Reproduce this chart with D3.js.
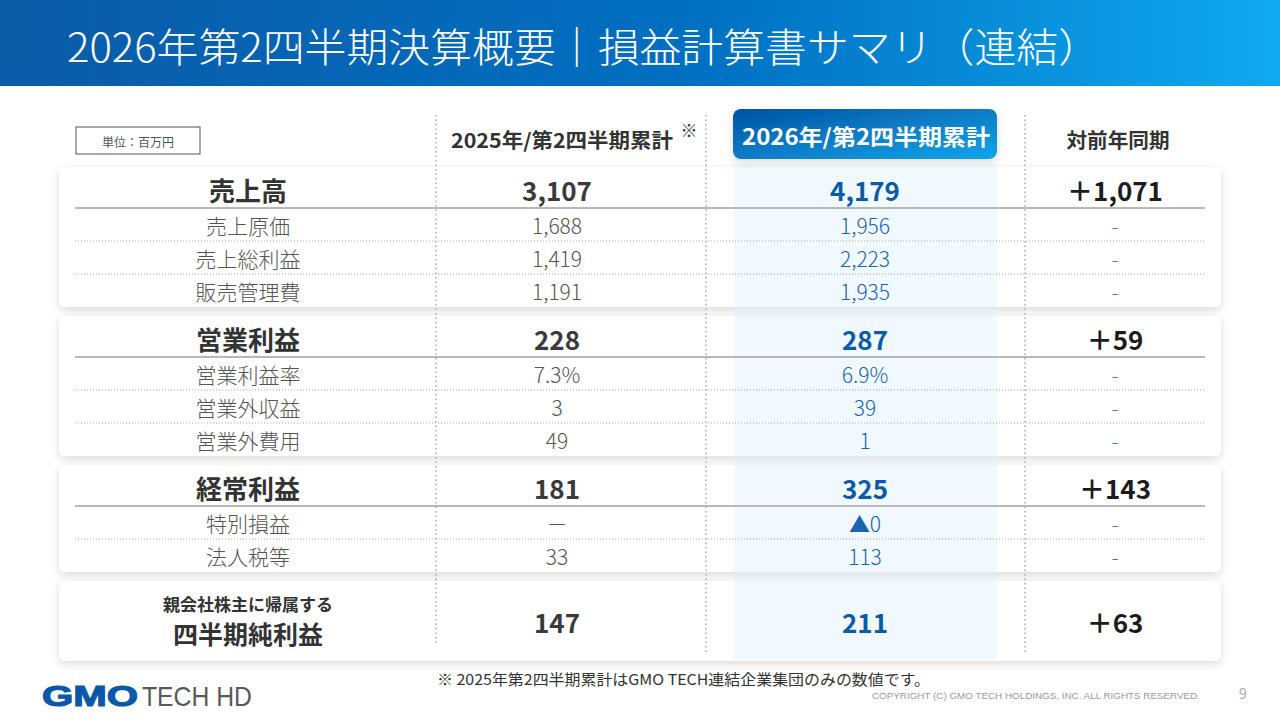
<!DOCTYPE html>
<html lang="ja">
<head>
  <meta charset="UTF-8">
  <title>損益計算書サマリ</title>
  <style>
    html, body { margin: 0; padding: 0; background: #fff; }
    svg { display: block; font-family: "Noto Sans CJK JP", "Noto Sans", sans-serif; }
  </style>
</head>
<body>
  <svg id="chart" width="1280" height="720"></svg>

  <script src="https://d3js.org/d3.v7.min.js"></script>
  <script>
    // Table contents (百万円)
    const titleText = "2026年第2四半期決算概要｜損益計算書サマリ（連結）";
    const unitText = "単位：百万円";
    const columnHeaders = ["2025年/第2四半期累計", "2026年/第2四半期累計", "対前年同期"];
    const rowLabels = ["売上高", "売上原価", "売上総利益", "販売管理費",
                       "営業利益", "営業利益率", "営業外収益", "営業外費用",
                       "経常利益", "特別損益", "法人税等",
                       "四半期純利益"];
    const rowIsMain = [true, false, false, false, true, false, false, false, true, false, false, true];
    const netIncomeCaption = "親会社株主に帰属する";
    const prior2025 = ["3,107", "1,688", "1,419", "1,191", "228", "7.3%", "3", "49", "181", "－", "33", "147"];
    const current2026 = ["4,179", "1,956", "2,223", "1,935", "287", "6.9%", "39", "1", "325", "▲0", "113", "211"];
    const yoyChange = ["＋1,071", "-", "-", "-", "＋59", "-", "-", "-", "＋143", "-", "-", "＋63"];
    const footnoteText = "※ 2025年第2四半期累計はGMO TECH連結企業集団のみの数値です。";
    const copyrightText = "COPYRIGHT (C) GMO TECH HOLDINGS, INC. ALL RIGHTS RESERVED.";
    const pageNumber = "9";

    const svg = d3.select("#chart");
    const defs = svg.append("defs");

    const bandGrad = defs.append("linearGradient").attr("id", "band").attr("x1", 0).attr("x2", 1);
    bandGrad.append("stop").attr("offset", "0%").attr("stop-color", "#0b5ba8");
    bandGrad.append("stop").attr("offset", "55%").attr("stop-color", "#0070c2");
    bandGrad.append("stop").attr("offset", "100%").attr("stop-color", "#10a9ef");

    const headGrad = defs.append("linearGradient").attr("id", "headbox")
      .attr("x1", 0).attr("y1", 0).attr("x2", 1).attr("y2", 1);
    headGrad.append("stop").attr("offset", "0%").attr("stop-color", "#0553a3");
    headGrad.append("stop").attr("offset", "100%").attr("stop-color", "#0aa6ea");

    const shadow = defs.append("filter").attr("id", "shadow")
      .attr("x", "-5%").attr("y", "-20%").attr("width", "110%").attr("height", "150%");
    shadow.append("feDropShadow").attr("dx", 0).attr("dy", 3).attr("stdDeviation", 4)
      .attr("flood-color", "#000").attr("flood-opacity", 0.15);

    // title band
    svg.append("rect").attr("width", 1280).attr("height", 86).attr("fill", "url(#band)");
    svg.append("text")
      .attr("x", 67).attr("y", 62)
      .attr("textLength", 1033).attr("lengthAdjust", "spacingAndGlyphs")
      .attr("font-size", 40).attr("font-weight", 300).attr("fill", "#fff")
      .text(titleText);

    // group rows into cards
    const groups = [];
    rowLabels.forEach((lab, i) => {
      if (rowIsMain[i]) groups.push({ main: i, subs: [] });
      else groups[groups.length - 1].subs.push(i);
    });
    let cardTop = 167;
    const rowY = new Array(rowLabels.length);
    groups.forEach(g => {
      g.top = cardTop;
      if (g.subs.length) {
        g.height = 41 + 33 * g.subs.length;
        g.divider = cardTop + 41;
        rowY[g.main] = cardTop + 21;
        g.subs.forEach((r, k) => { rowY[r] = cardTop + 57 + 33 * k; });
      } else {
        g.height = 80;
        rowY[g.main] = cardTop + 39;
      }
      cardTop += g.height + 9;
    });

    const columns = ["label", "prior", "current", "yoy"];
    const x = d3.scaleOrdinal().domain(columns).range([248, 557, 865, 1115]);
    const y = d3.scaleOrdinal().domain(d3.range(rowLabels.length)).range(rowY);
    const cardLeft = 59, cardRight = 1221;

    // cards
    svg.append("g").selectAll("rect").data(groups).join("rect")
      .attr("x", cardLeft).attr("y", d => d.top)
      .attr("width", cardRight - cardLeft).attr("height", d => d.height)
      .attr("rx", 6).attr("fill", "#fff").attr("filter", "url(#shadow)");

    // highlighted current-period column
    svg.append("rect")
      .attr("x", x("current") - 131).attr("y", 165)
      .attr("width", 263).attr("height", 495)
      .attr("fill", "#d8f1fc").attr("opacity", 0.4);

    // column separators
    svg.append("g").selectAll("line").data([436, 706, 1025]).join("line")
      .attr("x1", d => d).attr("x2", d => d)
      .attr("y1", 115).attr("y2", (d, i) => i ? 652 : 646)
      .attr("stroke", "#aaa").attr("stroke-width", 1.5).attr("stroke-dasharray", "1.5,3");

    // main row dividers
    svg.append("g").selectAll("line").data(groups.filter(g => g.subs.length)).join("line")
      .attr("x1", 75).attr("x2", 1205)
      .attr("y1", d => d.divider).attr("y2", d => d.divider)
      .attr("stroke", "#b8b8b8").attr("stroke-width", 2);

    // dotted separators between sub rows
    const subSeps = [];
    groups.forEach(g => g.subs.forEach((r, k) => { if (k > 0) subSeps.push(g.divider + 33 * k); }));
    svg.append("g").selectAll("line").data(subSeps).join("line")
      .attr("x1", 75).attr("x2", 1205).attr("y1", d => d).attr("y2", d => d)
      .attr("stroke", "#a8a8a8").attr("stroke-width", 1).attr("stroke-dasharray", "1,2");

    // header row
    svg.append("rect").attr("x", 76).attr("y", 127).attr("width", 124).attr("height", 27)
      .attr("fill", "#fff").attr("stroke", "#555").attr("stroke-width", 1);
    svg.append("text").attr("x", 138).attr("y", 141).attr("text-anchor", "middle")
      .attr("dominant-baseline", "central").attr("font-size", 12).attr("fill", "#555")
      .text(unitText);

    svg.append("rect").attr("x", 733).attr("y", 109).attr("width", 264).attr("height", 50)
      .attr("rx", 8).attr("fill", "url(#headbox)").attr("filter", "url(#shadow)");

    const headerX = [562, 866, 1118];
    const headerW = [222, 248, 103];
    svg.append("g").selectAll("text").data(columnHeaders).join("text")
      .attr("x", (d, i) => headerX[i]).attr("y", (d, i) => i === 1 ? 135 : 139)
      .attr("text-anchor", "middle").attr("dominant-baseline", "central")
      .attr("textLength", (d, i) => headerW[i]).attr("lengthAdjust", "spacingAndGlyphs")
      .attr("font-size", (d, i) => i === 1 ? 22 : 20).attr("font-weight", 700)
      .attr("fill", (d, i) => i === 1 ? "#fff" : "#333")
      .text(d => d);
    svg.append("text").attr("x", 689).attr("y", 129).attr("text-anchor", "middle")
      .attr("dominant-baseline", "central").attr("font-size", 17).attr("fill", "#333")
      .text("※");

    // row labels
    const rows = d3.range(rowLabels.length);
    const lastMain = groups[groups.length - 1].main;
    const labelG = svg.append("g");
    labelG.selectAll("text").data(rows).join("text")
      .attr("x", x("label"))
      .attr("y", i => i === lastMain ? y(i) + 13 : y(i) + 1)
      .attr("text-anchor", "middle").attr("dominant-baseline", "central")
      .attr("font-size", i => i === lastMain ? 25 : rowIsMain[i] ? 26 : 21)
      .attr("font-weight", i => rowIsMain[i] ? 700 : 300)
      .attr("fill", i => rowIsMain[i] ? "#333" : "#555")
      .text(i => rowLabels[i]);
    labelG.append("text").attr("x", x("label")).attr("y", y(lastMain) - 17)
      .attr("text-anchor", "middle").attr("dominant-baseline", "central")
      .attr("font-size", 17).attr("font-weight", 700).attr("fill", "#333")
      .text(netIncomeCaption);

    // values
    const valueCols = [
      { key: "prior", data: prior2025, main: "#3a3a3a", sub: "#555" },
      { key: "current", data: current2026, main: "#0c5aa8", sub: "#1a62b2" },
      { key: "yoy", data: yoyChange, main: "#1c1c1c", sub: "#3b7cc6" }
    ];
    valueCols.forEach(c => {
      svg.append("g").selectAll("text").data(rows).join("text")
        .attr("x", x(c.key))
        .attr("y", i => y(i) + 1)
        .attr("text-anchor", "middle").attr("dominant-baseline", "central")
        .attr("font-size", i => rowIsMain[i] ? 26 : 21)
        .attr("font-weight", i => rowIsMain[i] ? 700 : 300)
        .attr("fill", i => rowIsMain[i] ? c.main : c.sub)
        .text(i => c.data[i]);
    });

    // footer
    svg.append("text").attr("x", 437).attr("y", 685)
      .attr("textLength", 493).attr("lengthAdjust", "spacingAndGlyphs")
      .attr("font-size", 15).attr("fill", "#333").text(footnoteText);

    svg.append("text").attr("x", 42).attr("y", 706)
      .attr("textLength", 96).attr("lengthAdjust", "spacingAndGlyphs")
      .attr("font-family", "Liberation Sans, Arial, sans-serif")
      .attr("font-size", 30).attr("font-weight", 700).attr("fill", "#0a58a8")
      .attr("stroke", "#0a58a8").attr("stroke-width", 1.2).text("GMO");
    svg.append("text").attr("x", 142).attr("y", 706)
      .attr("textLength", 110).attr("lengthAdjust", "spacingAndGlyphs")
      .attr("font-family", "Liberation Sans, Arial, sans-serif")
      .attr("font-size", 28).attr("fill", "#5a5a5a").text("TECH HD");

    svg.append("text").attr("x", 872).attr("y", 699)
      .attr("textLength", 328).attr("lengthAdjust", "spacingAndGlyphs")
      .attr("font-family", "Liberation Sans, Arial, sans-serif")
      .attr("font-size", 9).attr("fill", "#9a9a9a").text(copyrightText);
    svg.append("text").attr("x", 1243).attr("y", 699).attr("text-anchor", "middle")
      .attr("font-size", 14).attr("fill", "#aaa").text(pageNumber);
  </script>
</body>
</html>
